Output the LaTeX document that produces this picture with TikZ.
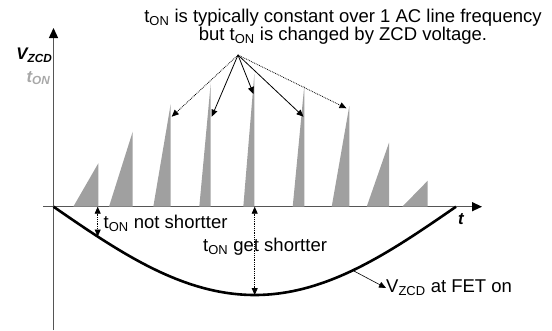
\documentclass[tikz,border=0pt]{standalone}
\usepackage{fontspec}
\setmainfont{Liberation Sans}
\usetikzlibrary{arrows.meta,positioning,calc}
\definecolor{Axis}{HTML}{555555}
\definecolor{Pulse}{HTML}{A0A0A0}
\definecolor{Label}{HTML}{000000}
\definecolor{Muted}{HTML}{A8A8A8}
\tikzset{
 axis/.style={draw=Axis, line width=1.4pt, -{Triangle[length=10pt,width=9pt,color=black]}},
 pulse/.style={fill=Pulse, draw=none},
 txt/.style={font=\fontsize{18.5}{20}\selectfont, inner sep=0pt, text=Label},
 axlabel/.style={txt, font=\fontsize{16.8}{18}\selectfont\bfseries\itshape},
 solidarrow/.style={-{Triangle[length=7pt,width=6pt]}, line width=0.8pt},
 dotarrow/.style={-{Triangle[length=7pt,width=6pt]}, densely dotted, line width=0.8pt},
 gaparrow/.style={{Triangle[length=7pt,width=6pt]}-{Triangle[length=7pt,width=6pt]}, densely dotted, line width=0.8pt},
 curve/.style={line width=2.6pt}
}
\newcommand{\ton}{t\textsubscript{ON}}

\begin{document}
\begin{tikzpicture}[x=1pt,y=-1pt]
\useasboundingbox (0,0) rectangle (552,330);
% axes
\coordinate (O) at (53.5,206.7);
\draw[axis] (53.5,330) -- (53.5,28);
\draw[axis] (43,206.7) -- (482,206.7);
\node[axlabel, anchor=east] (vzcd) at (52.5,55) {V\textsubscript{ZCD}};
\node[axlabel, anchor=east, text=Muted] (tonax) at (50.5,78) {t\textsubscript{ON}};
\node[axlabel] (tlab) at (461,219) {t};
% switching pulses
\foreach \l/\r/\h [count=\i] in {73.3/98.3/163.3, 109/132.7/131.7, 153.3/170.7/104, 199.3/210.7/83.3,
 243.3/254.3/74, 292.7/304.3/85.5, 331.7/349.3/106, 366.7/389/142.7, 402.3/427.7/180.7}
 \fill[pulse] (\l,206.7) -- (\r,206.7) -- (\r,\h) coordinate (p\i) -- cycle;
% ZCD voltage at FET on
\draw[curve] (O) sin (254.7,295) coordinate (bot) cos (456,206.7) coordinate (end);
\coordinate (c1) at (97.7,236.5);
\coordinate (c2) at (353,270.5);
% note
\node[txt, align=center, font=\fontsize{18.5}{17}\selectfont] (note) at (343,26.5) {\ton{} is typically constant over 1 AC line frequency\\but \ton{} is changed by ZCD voltage.};
\coordinate (src) at (238,55);
\draw[dotarrow] (src) -- (171.7,116.7) coordinate (a3);
\draw[solidarrow] (src) -- (211.7,116.7) coordinate (a4);
\draw[solidarrow] (src) -- (253.5,94) coordinate (a5);
\draw[solidarrow] (src) -- (303.5,116.7) coordinate (a6);
\draw[dotarrow] (src) -- (346.5,108.3) coordinate (a7);
% t_on gaps
\draw[gaparrow] (c1 |- O) -- (c1);
\draw[gaparrow] (bot |- O) -- (bot);
\node[txt, anchor=west] (notshort) at (103.5,223) {\ton{} not shortter};
\node[txt, anchor=west] (short) at (203,247) {\ton{} get shortter};
\node[txt, anchor=west] (fet) at (386,288) {V\textsubscript{ZCD} at FET on};
\draw[-{Triangle[length=7pt,width=6pt]}, line width=0.6pt] (c2) -- (fet.west);
\end{tikzpicture}
\end{document}
